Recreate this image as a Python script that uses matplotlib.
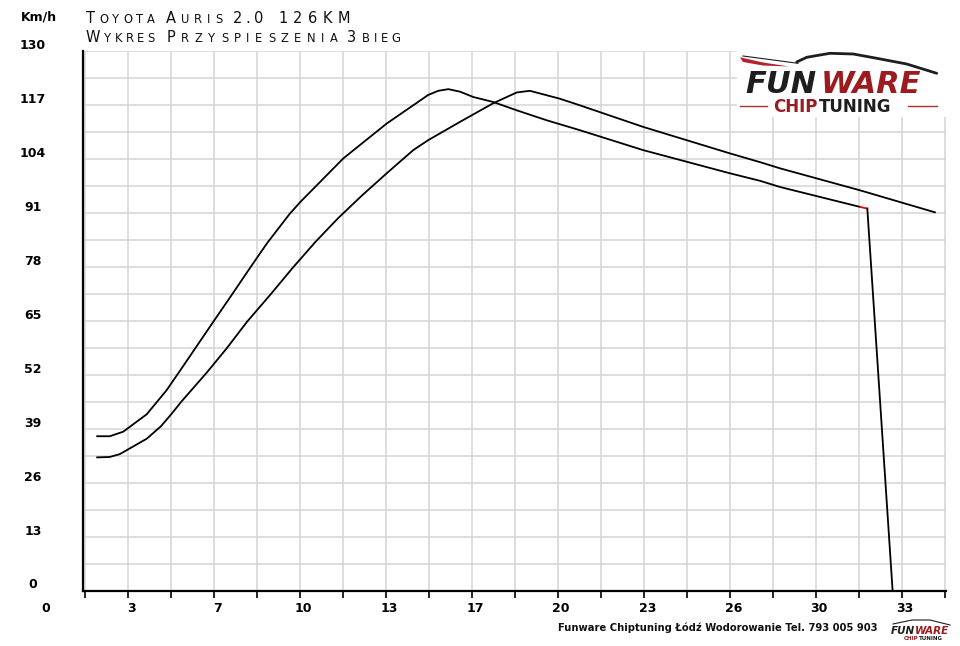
import matplotlib
matplotlib.use("Agg")
import matplotlib.pyplot as plt
import matplotlib.transforms as mtransforms
from matplotlib.patches import Rectangle, Polygon
from matplotlib.lines import Line2D

W, H = 960, 646

# speed curves: time [s], speed [km/h]
t_a = [2.13, 2.62, 3.14, 4.05, 4.82, 5.34, 6.63, 7.38, 8.0, 8.72, 9.6, 10.02, 11.67,
       13.35, 14.96, 15.35, 15.74, 16.19, 16.71, 17.48, 18.39, 19.55, 20.84, 23.29,
       26.66, 27.82, 28.6, 31.7]
v_a = [37.2, 37.2, 38.3, 42.5, 48.3, 53.0, 64.8, 71.6, 77.3, 83.8, 90.9, 93.8, 104.2,
       112.6, 119.5, 120.5, 120.9, 120.3, 119.0, 117.8, 115.8, 113.4, 111.0, 106.2,
       100.6, 98.8, 97.3, 92.5]
t_red = [31.7, 31.98]
v_red = [92.5, 92.1]
t_drop = [31.98, 32.96]
v_drop = [92.1, 0.0]

t_b = [2.13, 2.62, 3.01, 4.05, 4.6, 5.0, 5.4, 6.37, 7.15, 7.95, 8.85, 9.72, 10.58,
       11.47, 12.4, 13.35, 14.38, 14.96, 16.19, 17.48, 18.39, 18.9, 20.06, 20.84,
       23.29, 26.66, 27.82, 28.6, 31.7, 34.6]
v_b = [32.1, 32.2, 32.9, 36.6, 39.6, 42.5, 45.6, 52.5, 58.4, 64.9, 71.4, 77.9, 84.0,
       89.8, 95.3, 100.6, 106.2, 108.6, 113.0, 117.5, 120.1, 120.5, 118.6, 117.0,
       111.8, 105.4, 103.3, 101.8, 96.5, 91.2]

x_tick_labels = ["3", "7", "10", "13", "17", "20", "23", "26", "30", "33"]
y_tick_labels = ["0", "13", "26", "39", "52", "65", "78", "91", "104", "117", "130"]

title_1 = [("Toyota", 86, 155), ("Auris", 166, 222), ("2.0", 233, 263), ("126KM", 278, 350)]
title_2 = [("Wykres", 86, 155), ("Przyspieszenia", 167, 338), ("3", 347, 353), ("bieg", 362, 400)]
footer = "Funware Chiptuning Łódź Wodorowanie Tel. 793 005 903"

plt.rcParams['font.family'] = ['DejaVu Sans']


def fx(px):
    return px / W


def fy(py):
    return 1 - py / H


fig = plt.figure(figsize=(W / 100, H / 100), dpi=100)
ax = fig.add_axes([fx(83), fy(590.5), fx(946) - fx(83), fy(51) - fy(590.5)])

ax.plot(t_a, v_a, color='black', lw=1.3, zorder=3)
ax.plot(t_b, v_b, color='black', lw=1.3, zorder=3)
ax.plot(t_red, v_red, color='red', lw=1.3, zorder=3)
ax.plot(t_drop, v_drop, color='black', lw=1.3, zorder=3, clip_on=False)

ax.set_xlim(1.58, 35.03)
ax.set_ylim(0, 130.1)

step = 10 / 3
ax.set_xticks([step * (k + 1) for k in range(len(x_tick_labels))])
ax.set_xticklabels(x_tick_labels)
ax.set_xticks([step / 2 + step * k for k in range(11)], minor=True)
ax.set_yticks([13 * k for k in range(len(y_tick_labels))])
ax.set_yticklabels(y_tick_labels)
ax.set_yticks([6.5 + 13 * k for k in range(10)], minor=True)

ax.grid(which='both', color='#d4d4d4', lw=1.1)
ax.set_axisbelow(True)
ax.tick_params(axis='x', which='both', direction='out', length=5, width=1.2,
               color='black', pad=3, labelsize=9)
ax.tick_params(axis='y', which='both', length=0, pad=36, labelsize=9)

for sp in ['top', 'right']:
    ax.spines[sp].set_visible(False)
for sp in ['left', 'bottom']:
    ax.spines[sp].set_linewidth(1.6)
    ax.spines[sp].set_zorder(4)

up = mtransforms.ScaledTranslation(0, 7 / 100, fig.dpi_scale_trans)
right = mtransforms.ScaledTranslation(3 / 100, 0, fig.dpi_scale_trans)
for lab in ax.get_yticklabels():
    lab.set_fontweight('bold')
    lab.set_horizontalalignment('center')
    lab.set_transform(lab.get_transform() + up)
for lab in ax.get_xticklabels():
    lab.set_fontweight('bold')
    lab.set_transform(lab.get_transform() + right)

ax.annotate("0", xy=(0, 0), xycoords=('data', 'axes fraction'),
            xytext=(2.2, -8.6), textcoords='offset points', ha='center', va='top',
            fontsize=9, fontweight='bold', annotation_clip=False)

fig.text(fx(39), fy(17), "Km/h", ha='center', va='center', fontsize=9, fontweight='bold')


def small_caps(words, baseline, big=10.5, small=8.3):
    r = fig.canvas.get_renderer()
    for word, x0, x1 in words:
        arts = []
        for ch in word:
            size = small if ch.islower() else big
            arts.append(fig.text(0, fy(baseline), ch.upper(), fontsize=size,
                                 va='baseline', ha='left', color='#101010'))
        widths = [a.get_window_extent(r).width for a in arts]
        gap = (x1 - x0 - sum(widths)) / max(len(arts) - 1, 1)
        x = x0
        for a, w in zip(arts, widths):
            a.set_x(fx(x))
            x += w + gap


small_caps(title_1, 23)
small_caps(title_2, 42.5)

fig.text(fx(558), fy(628), footer, ha='left', va='center', fontsize=7.2,
         fontweight='bold', color='#111111')

# logo top right
dark = '#1e1e1e'
red = '#9c1b1f'
fig.add_artist(Rectangle((fx(737), fy(117)), fx(946) - fx(737), fy(45) - fy(117),
                         transform=fig.transFigure, facecolor='white', edgecolor='none',
                         zorder=2))
swoosh = [(740, 57.3), (763, 62.5), (789, 66.5), (763, 65.5), (743, 62)]
fig.add_artist(Polygon([(fx(x), fy(y)) for x, y in swoosh], closed=True,
                       transform=fig.transFigure, facecolor='#b5202a', edgecolor='none',
                       zorder=3))
fig.add_artist(Line2D([fx(743), fx(798)], [fy(56), fy(63.3)], transform=fig.transFigure,
                      color=dark, lw=0.8, zorder=3))
roof_x = [796.7, 806.7, 830, 853.3, 876.7, 906.7, 936.7]
roof_y = [62, 57.3, 53.3, 54, 58.3, 64, 73.3]
fig.add_artist(Line2D([fx(x) for x in roof_x], [fy(y) for y in roof_y],
                      transform=fig.transFigure, color=dark, lw=2.0, zorder=3,
                      solid_capstyle='round'))
fig.text(fx(745), fy(93), "FUN", fontsize=22, fontweight='bold', fontstyle='italic',
         color=dark, ha='left', va='baseline', zorder=4)
fig.text(fx(821), fy(93), "WARE", fontsize=22, fontweight='bold', fontstyle='italic',
         color=red, ha='left', va='baseline', zorder=4)
fig.text(fx(773), fy(112), "CHIP", fontsize=12, fontweight='bold', color=red,
         ha='left', va='baseline', zorder=4)
fig.text(fx(819), fy(112), "TUNING", fontsize=12, fontweight='bold', color=dark,
         ha='left', va='baseline', zorder=4)
fig.add_artist(Line2D([fx(740), fx(767)], [fy(105.7), fy(105.7)], transform=fig.transFigure,
                      color='#b03030', lw=1.0, zorder=3))
fig.add_artist(Line2D([fx(908), fx(937)], [fy(105.7), fy(105.7)], transform=fig.transFigure,
                      color='#b03030', lw=1.0, zorder=3))

# small logo in the footer
fig.add_artist(Line2D([fx(893), fx(912), fx(930), fx(950)], [fy(624), fy(620), fy(620), fy(625)],
                      transform=fig.transFigure, color=dark, lw=0.8, zorder=3))
fig.text(fx(891), fy(633.5), "FUN", fontsize=7.5, fontweight='bold', fontstyle='italic',
         color=dark, ha='left', va='baseline')
fig.text(fx(915), fy(633.5), "WARE", fontsize=7.5, fontweight='bold', fontstyle='italic',
         color=red, ha='left', va='baseline')
fig.text(fx(904), fy(640), "CHIP", fontsize=4, fontweight='bold', color=red,
         ha='left', va='baseline')
fig.text(fx(919), fy(640), "TUNING", fontsize=4, fontweight='bold', color=dark,
         ha='left', va='baseline')

fig.savefig("out.png", dpi=100, facecolor='white')
